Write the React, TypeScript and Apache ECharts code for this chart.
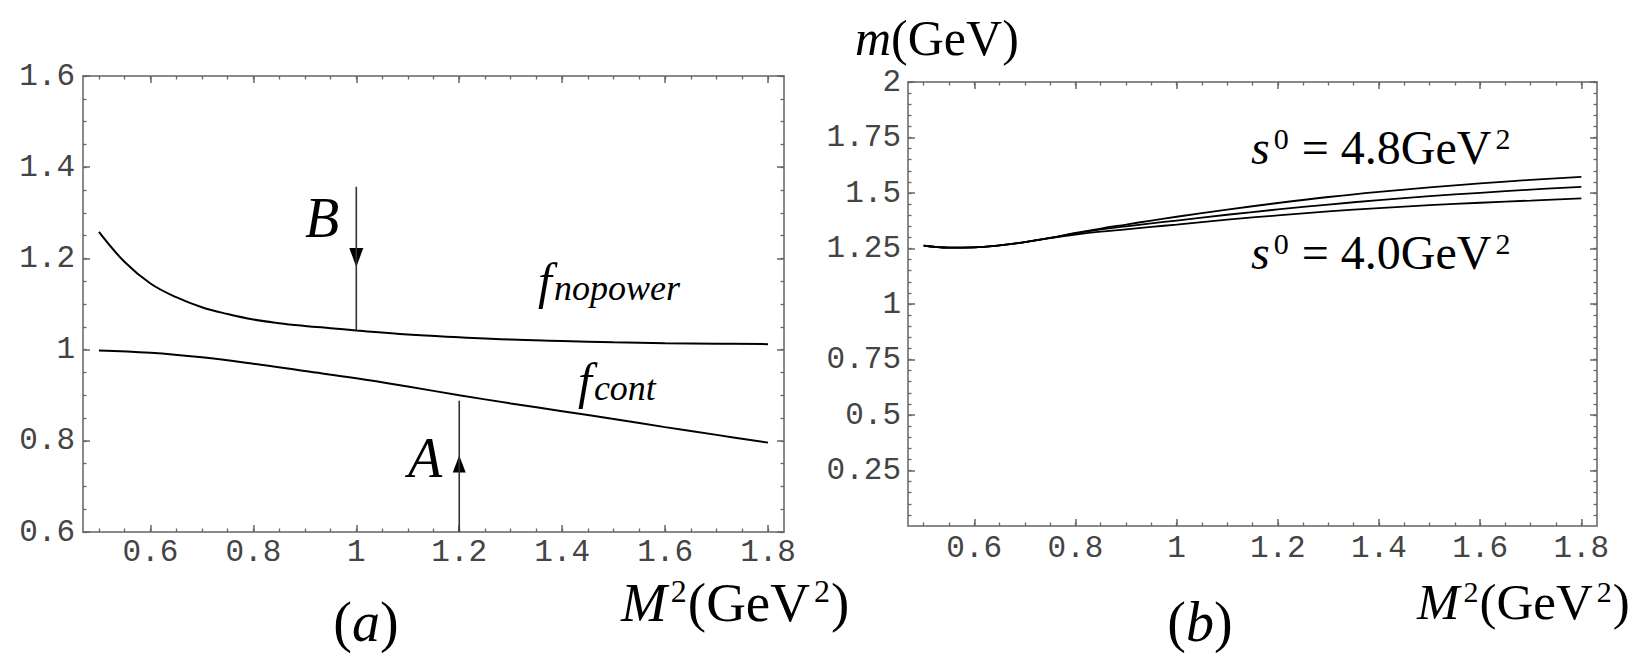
import React, { useEffect, useRef } from "react";
import * as echarts from "echarts";

// ---------- tick values ----------
const xMajorTicks = [0.6, 0.8, 1, 1.2, 1.4, 1.6, 1.8];
const xMinorTicks = [0.5, 0.55, 0.6, 0.65, 0.7, 0.75, 0.8, 0.85, 0.9, 0.95, 1, 1.05, 1.1, 1.15, 1.2, 1.25, 1.3, 1.35, 1.4, 1.45, 1.5, 1.55, 1.6, 1.65, 1.7, 1.75, 1.8];
const leftYMajorTicks = [0.6, 0.8, 1, 1.2, 1.4, 1.6];
const leftYMinorTicks = [0.6, 0.65, 0.7, 0.75, 0.8, 0.85, 0.9, 0.95, 1, 1.05, 1.1, 1.15, 1.2, 1.25, 1.3, 1.35, 1.4, 1.45, 1.5, 1.55, 1.6];
const rightYMajorTicks = [0.25, 0.5, 0.75, 1, 1.25, 1.5, 1.75, 2];
const rightYMinorTicks = [0.05, 0.1, 0.15, 0.2, 0.25, 0.3, 0.35, 0.4, 0.45, 0.5, 0.55, 0.6, 0.65, 0.7, 0.75, 0.8, 0.85, 0.9, 0.95, 1, 1.05, 1.1, 1.15, 1.2, 1.25, 1.3, 1.35, 1.4, 1.45, 1.5, 1.55, 1.6, 1.65, 1.7, 1.75, 1.8, 1.85, 1.9, 1.95, 2];

// ---------- panel (a) data ----------
const nopowerX = [0.5, 0.55, 0.6, 0.65, 0.7, 0.75, 0.8, 0.85, 0.9, 0.95, 1.0, 1.1, 1.2, 1.3, 1.4, 1.5, 1.6, 1.7, 1.8];
const fNopower = [1.258, 1.192, 1.145, 1.115, 1.093, 1.078, 1.066, 1.058, 1.052, 1.047, 1.042, 1.033, 1.027, 1.022, 1.019, 1.016, 1.014, 1.013, 1.012];
const contX = [0.5, 0.6, 0.7, 0.8, 0.9, 1.0, 1.1, 1.2, 1.3, 1.4, 1.5, 1.6, 1.7, 1.8];
const fCont = [0.998, 0.993, 0.983, 0.969, 0.953, 0.937, 0.919, 0.9, 0.882, 0.865, 0.848, 0.83, 0.813, 0.796];
const arrowB = { x: 1.0, from: 1.357, to: 1.042, head: 1.202 };
const arrowA = { x: 1.2, from: 0.6, to: 0.888, head: 0.749 };

// ---------- panel (b) data ----------
const massX = [0.5, 0.55, 0.6, 0.65, 0.7, 0.75, 0.8, 0.85, 0.9, 0.95, 1.0, 1.1, 1.2, 1.3, 1.4, 1.5, 1.6, 1.7, 1.8];
const mass48 = [1.263, 1.254, 1.255, 1.264, 1.279, 1.298, 1.32, 1.34, 1.358, 1.376, 1.393, 1.425, 1.455, 1.482, 1.505, 1.525, 1.543, 1.559, 1.573];
const mass44 = [1.263, 1.254, 1.255, 1.264, 1.279, 1.298, 1.318, 1.336, 1.35, 1.363, 1.376, 1.402, 1.426, 1.448, 1.468, 1.486, 1.501, 1.515, 1.528];
const mass40 = [1.263, 1.254, 1.255, 1.264, 1.279, 1.297, 1.313, 1.326, 1.336, 1.347, 1.358, 1.38, 1.399, 1.417, 1.432, 1.445, 1.456, 1.466, 1.476];

const XMIN = 0.469;
const XMAX = 1.831;

const FRAME = "#8a8a8a";
const TICK = "#666";
const LABEL = "#444";
const MONO = '"Liberation Mono", "DejaVu Sans Mono", monospace';
const SERIF = '"Liberation Serif", "DejaVu Serif", serif';

const fmt = (v: number) => String(Number(v.toFixed(2)));

function zip(xs: number[], ys: number[]) {
  return xs.map((x, i) => [x, ys[i]]);
}

function axisSet(
  kind: "x" | "y",
  grid: number,
  min: number,
  max: number,
  major: number[],
  minor: number[],
  margin: number
) {
  const sides = kind === "x" ? ["bottom", "top"] : ["left", "right"];
  const base = {
    type: "value",
    gridIndex: grid,
    min,
    max,
    splitLine: { show: false },
    minorTick: { show: false },
  };
  const labelStyle = {
    fontFamily: MONO,
    fontSize: 31,
    color: LABEL,
    margin,
    formatter: fmt,
  };
  return [
    {
      ...base,
      position: sides[0],
      axisLine: { show: true, onZero: false, lineStyle: { color: FRAME, width: 2 } },
      axisTick: { show: true, inside: true, length: 7, customValues: major, lineStyle: { color: TICK, width: 1.5 } },
      axisLabel: { show: true, customValues: major, ...labelStyle },
    },
    {
      ...base,
      position: sides[1],
      axisLine: { show: true, onZero: false, lineStyle: { color: FRAME, width: 2 } },
      axisTick: { show: true, inside: true, length: 7, customValues: major, lineStyle: { color: TICK, width: 1.5 } },
      axisLabel: { show: false },
    },
    {
      ...base,
      position: sides[0],
      axisLine: { show: false, onZero: false },
      axisTick: { show: true, inside: true, length: 3.5, customValues: minor, lineStyle: { color: TICK, width: 1.3 } },
      axisLabel: { show: false },
    },
    {
      ...base,
      position: sides[1],
      axisLine: { show: false, onZero: false },
      axisTick: { show: true, inside: true, length: 3.5, customValues: minor, lineStyle: { color: TICK, width: 1.3 } },
      axisLabel: { show: false },
    },
  ];
}

function curve(data: number[][], xi: number, yi: number, width = 2) {
  return {
    type: "line",
    xAxisIndex: xi,
    yAxisIndex: yi,
    data,
    symbol: "none",
    smooth: 0.4,
    silent: true,
    lineStyle: { color: "#000", width },
  };
}

function shaft(a: { x: number; from: number; to: number }) {
  return {
    type: "line",
    xAxisIndex: 0,
    yAxisIndex: 0,
    data: [
      [a.x, a.from],
      [a.x, a.to],
    ],
    symbol: "none",
    silent: true,
    lineStyle: { color: "#333", width: 1.6 },
  };
}

function head(a: { x: number; head: number }, rotate: number, size: number[]) {
  return {
    type: "scatter",
    xAxisIndex: 0,
    yAxisIndex: 0,
    data: [[a.x, a.head]],
    symbol: "triangle",
    symbolSize: size,
    symbolRotate: rotate,
    silent: true,
    itemStyle: { color: "#000", opacity: 1 },
  };
}

function richText(x: number, y: number, text: string, rich: any, align = "left") {
  return {
    type: "text",
    x,
    y,
    silent: true,
    style: {
      text,
      rich,
      fill: "#000",
      align,
      verticalAlign: "top",
    },
  };
}

const richM = (fs: number, sup: number, supLH: number) => ({
  i: { fontFamily: SERIF, fontStyle: "italic", fontSize: fs, lineHeight: fs, verticalAlign: "middle", fill: "#000" },
  n: { fontFamily: SERIF, fontSize: fs, lineHeight: fs, verticalAlign: "middle", fill: "#000" },
  s: { fontFamily: SERIF, fontSize: sup, lineHeight: supLH, verticalAlign: "top", fill: "#000", padding: [0, 1, 0, 4] },
});

const richSub = (fs: number, sub: number, subLH: number) => ({
  f: { fontFamily: SERIF, fontStyle: "italic", fontSize: fs, lineHeight: fs, verticalAlign: "middle", fill: "#000" },
  b: { fontFamily: SERIF, fontStyle: "italic", fontSize: sub, lineHeight: subLH, verticalAlign: "bottom", fill: "#000", padding: [0, 0, 0, 2] },
});

const option = {
  animation: false,
  backgroundColor: "#fff",
  grid: [
    { left: 83, top: 76, width: 701, height: 456 },
    { left: 908, top: 82, width: 689, height: 444 },
  ],
  xAxis: [
    ...axisSet("x", 0, XMIN, XMAX, xMajorTicks, xMinorTicks, 5),
    ...axisSet("x", 1, XMIN, XMAX, xMajorTicks, xMinorTicks, 7),
  ],
  yAxis: [
    ...axisSet("y", 0, 0.6, 1.6, leftYMajorTicks, leftYMinorTicks, 8),
    ...axisSet("y", 1, 0, 2, rightYMajorTicks, rightYMinorTicks, 7),
  ],
  series: [
    curve(zip(nopowerX, fNopower), 0, 0),
    curve(zip(contX, fCont), 0, 0),
    shaft(arrowB),
    shaft(arrowA),
    head(arrowB, 180, [14, 19]),
    head(arrowA, 0, [13, 17]),
    curve(zip(massX, mass48), 4, 4, 1.8),
    curve(zip(massX, mass44), 4, 4, 1.8),
    curve(zip(massX, mass40), 4, 4, 1.8),
  ],
  graphic: [
    richText(305, 190, "{i|B}", richM(56, 32, 32)),
    richText(408, 430, "{i|A}", richM(56, 32, 32)),
    richText(538, 256, "{f|f}{b|nopower}", richSub(50, 36, 22)),
    richText(578, 356, "{f|f}{b|cont}", richSub(50, 36, 22)),
    richText(621, 575, "{i|M}{s|2}{n|(GeV}{s|2}{n|)}", richM(55, 32, 32)),
    richText(366, 594, "{n|(}{i|a}{n|)}", richM(56, 32, 32), "center"),
    richText(855, 13, "{i|m}{n|(GeV)}", richM(50, 30, 20)),
    richText(1251, 123, "{i|s}{s|0}{n| = 4.8GeV}{s|2}", richM(48, 30, 20)),
    richText(1251, 228, "{i|s}{s|0}{n| = 4.0GeV}{s|2}", richM(48, 30, 20)),
    richText(1417, 576, "{i|M}{s|2}{n|(GeV}{s|2}{n|)}", richM(51, 30, 30)),
    richText(1200, 594, "{n|(}{i|b}{n|)}", richM(56, 32, 32), "center"),
  ],
};

export default function App() {
  const ref = useRef<HTMLDivElement>(null);
  useEffect(() => {
    if (!ref.current) return;
    const chart = echarts.init(ref.current, null, { renderer: "svg" });
    chart.setOption(option as any);
    return () => chart.dispose();
  }, []);
  return (
    <div
      ref={ref}
      style={{ position: "fixed", left: 0, top: 0, width: 1639, height: 661, background: "#fff" }}
    />
  );
}
